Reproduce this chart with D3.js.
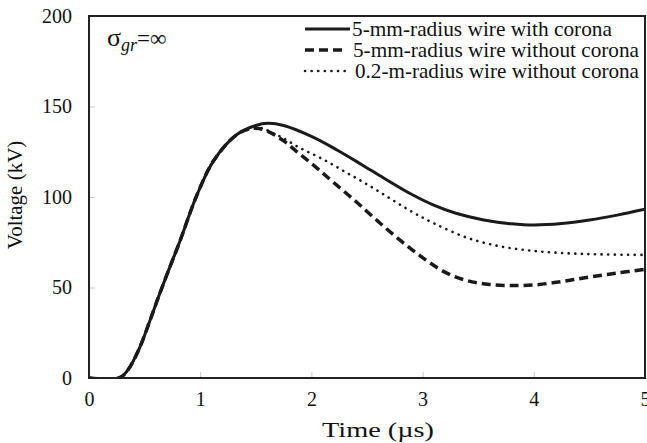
<!DOCTYPE html>
<html>
<head>
<meta charset="utf-8">
<script src="https://cdn.jsdelivr.net/npm/d3@7"></script>
<style>
  html, body { margin: 0; padding: 0; background: #fff; }
</style>
</head>
<body>
<svg id="chart" width="647" height="443"></svg>
<script>
// Voltage waveforms (kV) against time (µs)
const xTicks = [0, 1, 2, 3, 4, 5];
const yTicks = [0, 50, 100, 150, 200];

const withCoronaT = [0, 0.27, 0.35, 0.45, 0.55, 0.62, 0.7, 0.82, 0.97, 1.12, 1.33, 1.5, 1.61, 1.75, 2.0, 2.23, 2.45, 2.65, 2.9, 3.1, 3.3, 3.55, 3.8, 4.0, 4.25, 4.5, 4.75, 5.0];
const withCoronaV = [0, 0, 4.5, 16, 32, 44, 57, 76, 101, 120, 134.5, 139.5, 140.7, 139.5, 133.5, 126, 118, 110.5, 101.5, 95.5, 91, 87.3, 85.2, 84.5, 85.3, 87.3, 90, 93.2];

const noCoronaT = [0, 0.27, 0.35, 0.45, 0.55, 0.62, 0.7, 0.82, 0.97, 1.12, 1.33, 1.48, 1.6, 1.75, 1.9, 2.05, 2.2, 2.4, 2.6, 2.8, 3.0, 3.2, 3.4, 3.6, 3.8, 4.0, 4.25, 4.5, 4.75, 5.0];
const noCoronaV = [0, 0, 4.5, 16, 32, 44, 57, 76, 101, 120, 134.5, 138, 136.5, 131, 123.5, 116, 108, 97.5, 86.5, 76, 66.5, 58.5, 53.8, 51.7, 51.1, 51.4, 53.3, 55.8, 58, 60];

const largeWireT = [0, 0.27, 0.35, 0.45, 0.55, 0.62, 0.7, 0.82, 0.97, 1.12, 1.33, 1.5, 1.7, 1.9, 2.1, 2.3, 2.5, 2.7, 2.9, 3.1, 3.4, 3.7, 4.0, 4.3, 4.6, 5.0];
const largeWireV = [0, 0, 4.5, 16, 32, 44, 57, 76, 101, 120, 134.5, 138.5, 134, 127, 121, 114, 107, 99.5, 92, 85.5, 77.5, 72.7, 70.2, 68.9, 68.3, 68];

const seriesNames = [
  "5-mm-radius wire with corona",
  "5-mm-radius wire without corona",
  "0.2-m-radius wire without corona"
];

const margin = { left: 89, top: 16, right: 2, bottom: 65 };
const W = 647, H = 443;
const FONT = "'Liberation Serif', 'Times New Roman', Times, serif";
const svg = d3.select("#chart").attr("font-family", FONT);

const x = d3.scaleLinear().domain([0, 5]).range([margin.left, W - margin.right]);
const y = d3.scaleLinear().domain([0, 200]).range([H - margin.bottom, margin.top]);

const series = [
  { name: seriesNames[0], t: withCoronaT, v: withCoronaV, width: 3, dash: null, cap: "butt" },
  { name: seriesNames[1], t: noCoronaT, v: noCoronaV, width: 3.5, dash: "9,5", cap: "butt" },
  { name: seriesNames[2], t: largeWireT, v: largeWireV, width: 2.6, dash: "0.1,6.5", cap: "round" }
];

// axes: faint inward ticks, labels outside
const yAxis = d3.axisLeft(y).tickValues(yTicks).tickFormat(d3.format("d")).tickSize(-6).tickPadding(17);
const xAxis = d3.axisBottom(x).tickValues(xTicks).tickFormat(d3.format("d")).tickSize(-6).tickPadding(14);

const gy = svg.append("g").attr("transform", `translate(${margin.left},0)`).call(yAxis);
const gx = svg.append("g").attr("transform", `translate(0,${H - margin.bottom})`).call(xAxis);
[gx, gy].forEach(g => {
  g.attr("font-family", FONT).attr("font-size", 20);
  g.select(".domain").remove();
  g.selectAll(".tick line").attr("stroke", "#c8c8c8").attr("stroke-width", 1);
  g.selectAll(".tick text").attr("fill", "#111");
});

// curves
const line = d3.line().x(d => x(d[0])).y(d => y(d[1])).curve(d3.curveCatmullRom.alpha(0.5));
svg.append("clipPath").attr("id", "plot-clip").append("rect")
  .attr("x", margin.left).attr("y", margin.top)
  .attr("width", W - margin.right - margin.left).attr("height", H - margin.bottom - margin.top);

svg.append("g").attr("clip-path", "url(#plot-clip)")
  .selectAll("path").data(series.slice().reverse()).join("path")
  .attr("d", s => line(s.t.map((t, i) => [t, s.v[i]])))
  .attr("fill", "none")
  .attr("stroke", "#1a1a1a")
  .attr("stroke-width", s => s.width)
  .attr("stroke-dasharray", s => s.dash)
  .attr("stroke-linecap", s => s.cap);

// frame
svg.append("rect")
  .attr("x", margin.left).attr("y", margin.top)
  .attr("width", W - margin.right - margin.left).attr("height", H - margin.bottom - margin.top)
  .attr("fill", "none").attr("stroke", "#222").attr("stroke-width", 2);

// legend: sample line + label, each label fitted to its box width
const legendRows = [
  { y: 29, x1: 305, x2: 350, tx: 352, tw: 260 },
  { y: 50, x1: 305, x2: 346, tx: 353, tw: 286 },
  { y: 71, x1: 305, x2: 346, tx: 355, tw: 284 }
];
series.forEach((s, i) => {
  const r = legendRows[i];
  svg.append("line")
    .attr("x1", r.x1).attr("x2", r.x2)
    .attr("y1", r.y).attr("y2", r.y)
    .attr("stroke", "#1a1a1a")
    .attr("stroke-width", s.width)
    .attr("stroke-dasharray", s.dash)
    .attr("stroke-linecap", s.cap);
  svg.append("text")
    .attr("x", r.tx).attr("y", r.y)
    .attr("dy", "0.33em")
    .attr("font-size", 21).attr("fill", "#111")
    .attr("textLength", r.tw).attr("lengthAdjust", "spacingAndGlyphs")
    .text(s.name);
});

// ground conductivity note
const note = svg.append("text").attr("x", 107).attr("y", 46)
  .attr("font-size", 26).attr("fill", "#111");
note.append("tspan").text("σ");
note.append("tspan").attr("font-style", "italic").attr("font-size", 18).attr("dy", 5).text("gr");
note.append("tspan").attr("dy", -5).attr("font-size", 23).text("=∞");

// axis titles
svg.append("text")
  .attr("x", 322).attr("y", 437)
  .attr("font-size", 22).attr("fill", "#111")
  .attr("textLength", 112).attr("lengthAdjust", "spacingAndGlyphs")
  .text("Time (µs)");

svg.append("text")
  .attr("transform", `translate(22,195) rotate(-90)`)
  .attr("text-anchor", "middle")
  .attr("font-size", 21).attr("fill", "#111")
  .text("Voltage (kV)");
</script>
</body>
</html>
